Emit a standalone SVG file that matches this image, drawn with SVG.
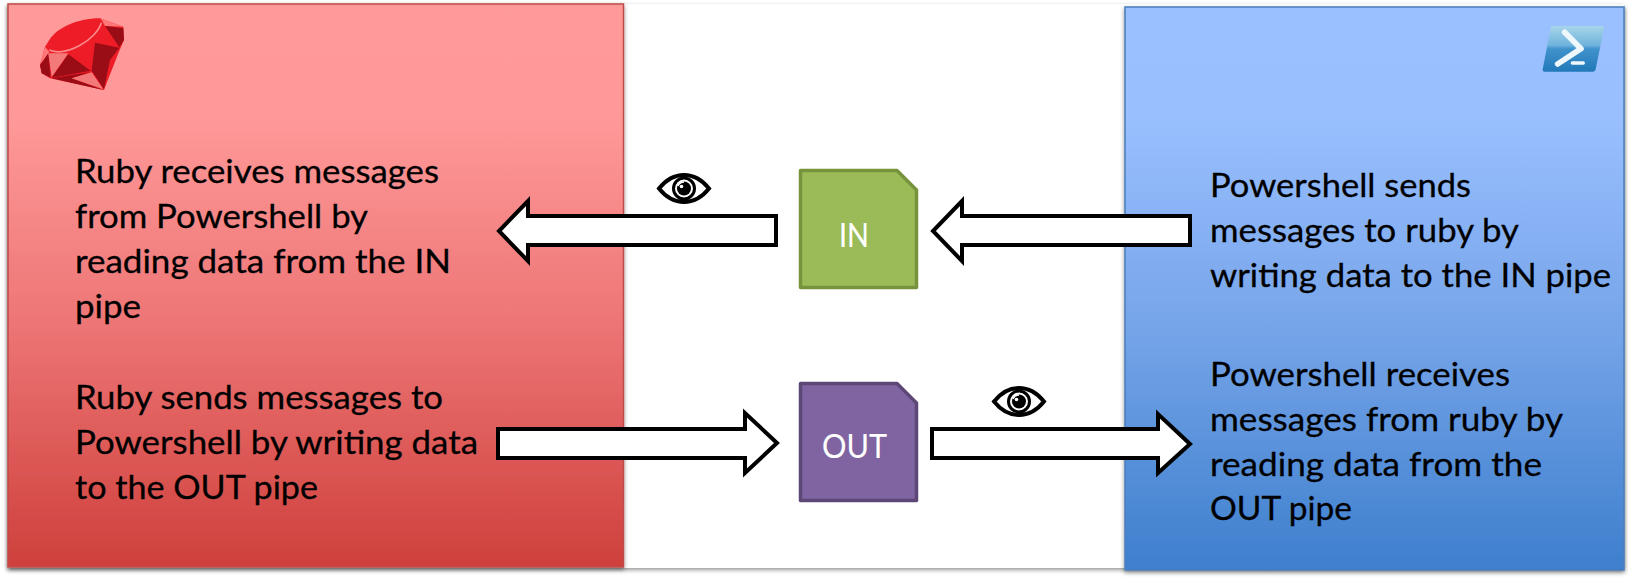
<svg xmlns="http://www.w3.org/2000/svg" xmlns:xlink="http://www.w3.org/1999/xlink" width="1634" height="582" viewBox="0 0 1634 582">
<style>
.t{font-family:"Lato","Carlito","Liberation Sans",sans-serif;font-size:33px;fill:#000;stroke:#000;stroke-width:.3px}
.w{fill:#fff;stroke:#fff;stroke-width:.1px}
.arrow{fill:#fff;stroke:#000;stroke-width:4;stroke-miterlimit:10}
.doc{stroke-width:3.5;stroke-linejoin:round}
</style>
<defs>
<linearGradient id="red" x1="0" y1="0" x2="0" y2="1"><stop offset="0" stop-color="#ff9a9a"/><stop offset=".2" stop-color="#ff9999"/><stop offset=".55" stop-color="#ee7777"/><stop offset="1" stop-color="#ce403c"/></linearGradient>
<linearGradient id="blue" x1="0" y1="0" x2="0" y2="1"><stop offset="0" stop-color="#9bc0ff"/><stop offset=".2" stop-color="#99bfff"/><stop offset=".55" stop-color="#78a6ea"/><stop offset="1" stop-color="#3e7fcd"/></linearGradient>
<linearGradient id="ps" x1="0" y1="0" x2="0" y2="1"><stop offset="0" stop-color="#a8d4ea"/><stop offset=".42" stop-color="#6fb4dc"/><stop offset=".5" stop-color="#3f93cc"/><stop offset="1" stop-color="#2378b8"/></linearGradient>
<filter id="sh" x="-5%" y="-5%" width="110%" height="110%"><feDropShadow dx="0" dy="2" stdDeviation="2" flood-color="#000" flood-opacity=".42"/></filter>
<filter id="soft" x="-10%" y="-10%" width="120%" height="120%"><feGaussianBlur stdDeviation=".5"/></filter>
<symbol id="eye" viewBox="0 0 54 31" overflow="visible">
<path d="M2 15.5C10 5.5 18 2 27 2S44 5.500 52 15.500C44 25.500 36 29 27 29S10 25.500 2 15.500Z" fill="#fff" stroke="#000" stroke-width="4"/>
<circle cx="27" cy="15.500" r="10.500" fill="none" stroke="#000" stroke-width="3"/>
<circle cx="27" cy="15.500" r="7" fill="#000"/>
<path d="M21 13A6.500 6.500 0 0 1 27 9" fill="none" stroke="#fff" stroke-width="1.500"/>
<circle cx="24.500" cy="13.500" r="1.800" fill="#fff"/>
</symbol>
</defs>
<rect width="1634" height="582" fill="#fff"/>
<rect id="backdrop" x="8" y="4" width="1616" height="564" fill="#fff" filter="url(#sh)"/>
<g id="ruby">
<rect x="8" y="4" width="615.500" height="563" fill="url(#red)" stroke="#be4b48" stroke-width="1.500" filter="url(#sh)"/>
<g transform="scale(.3333)" filter="url(#soft)">
<path d="M120 195L135 140 148 120C170 85 230 55 300 55L370 80 372 120 355 160 312 270 150 235 125 220Z" fill="#ee1c27"/>
<path d="M148 150C200 172 290 118 304 68" fill="none" stroke="#fb8a8a" stroke-width="5"/>
<path d="M302 55L370 80 315 78Z" fill="#f77"/>
<path d="M135 140L148 155 146 160 120 195Z" fill="#f77"/>
<path d="M315 78L370 85 372 120 358 142Z" fill="#9a0c14"/>
<path d="M120 195L145 160 152 233 125 220Z" fill="#9a0c14"/>
<path d="M145 160L205 160 155 232Z" fill="#f47a7a"/>
<path d="M205 163L272 212 155 233Z" fill="#9a0c14"/>
<path d="M285 128L358 143 330 180 312 268 275 212Z" fill="#9a0c14"/>
<path d="M155 235L272 216 215 235 310 270Z" fill="#9a0c14"/>
<path d="M275 217L310 268 215 235Z" fill="#f47a7a"/>
</g>
</g>
<g id="powershell">
<rect x="1125" y="7" width="499" height="563" fill="url(#blue)" stroke="#4a7ebb" stroke-width="1.500" filter="url(#sh)"/>
<g transform="translate(1480) scale(.3333)" filter="url(#soft)">
<path d="M218 78H366Q373 78 372 85L347 208Q346 215 339 215H194Q187 215 188 208L212 85Q213 78 218 78Z" fill="url(#ps)"/>
<path d="M254 97L303 146 233 192" fill="none" stroke="#eef8fc" stroke-width="17" stroke-linecap="round" stroke-linejoin="round"/>
<path d="M277 189H310" fill="none" stroke="#eef8fc" stroke-width="10" stroke-linecap="round"/>
</g>
</g>
<g id="connectors">
<path class="arrow" d="M776 216V245H528V261L499 231 528 201V216Z"/>
<path class="arrow" d="M1190 216V245H962V261L933 231 962 201V216Z"/>
<path class="arrow" d="M498 429V458H745V473L777 443 745 413V429Z"/>
<path class="arrow" d="M932 429V458H1158V473L1190 444 1158 414V429Z"/>
</g>
<g id="in-pipe">
<path class="doc" d="M800.500 170.500H897L916.500 190V287.500H800.500Z" fill="#9bbb59" stroke="#77933c"/>
<text class="t w" x="839" y="247" textLength="30" lengthAdjust="spacingAndGlyphs">IN</text>
</g>
<g id="out-pipe">
<path class="doc" d="M800.500 383.500H897L916.500 403V500.500H800.500Z" fill="#8064a2" stroke="#5c4776"/>
<text class="t w" x="822" y="458" textLength="65" lengthAdjust="spacingAndGlyphs">OUT</text>
</g>
<g id="eye-in"><use xlink:href="#eye" href="#eye" x="657" y="173" width="54" height="31"/></g>
<g id="eye-out"><use xlink:href="#eye" href="#eye" x="992" y="386" width="54" height="31"/></g>
<g id="ruby-text">
<text class="t" x="75" y="183" textLength="364" lengthAdjust="spacingAndGlyphs">Ruby receives messages</text>
<text class="t" x="75" y="228" textLength="293" lengthAdjust="spacingAndGlyphs">from Powershell by</text>
<text class="t" x="75" y="273" textLength="376" lengthAdjust="spacingAndGlyphs">reading data from the IN</text>
<text class="t" x="75" y="318" textLength="66" lengthAdjust="spacingAndGlyphs">pipe</text>
<text class="t" x="75" y="409" textLength="368" lengthAdjust="spacingAndGlyphs">Ruby sends messages to</text>
<text class="t" x="75" y="454" textLength="403" lengthAdjust="spacingAndGlyphs">Powershell by writing data</text>
<text class="t" x="75" y="499" textLength="243" lengthAdjust="spacingAndGlyphs">to the OUT pipe</text>
</g>
<g id="powershell-text">
<text class="t" x="1210" y="197" textLength="261" lengthAdjust="spacingAndGlyphs">Powershell sends</text>
<text class="t" x="1210" y="242" textLength="309" lengthAdjust="spacingAndGlyphs">messages to ruby by</text>
<text class="t" x="1210" y="287" textLength="401" lengthAdjust="spacingAndGlyphs">writing data to the IN pipe</text>
<text class="t" x="1210" y="386" textLength="300" lengthAdjust="spacingAndGlyphs">Powershell receives</text>
<text class="t" x="1210" y="431" textLength="353" lengthAdjust="spacingAndGlyphs">messages from ruby by</text>
<text class="t" x="1210" y="476" textLength="332" lengthAdjust="spacingAndGlyphs">reading data from the</text>
<text class="t" x="1210" y="520" textLength="142" lengthAdjust="spacingAndGlyphs">OUT pipe</text>
</g>
</svg>
